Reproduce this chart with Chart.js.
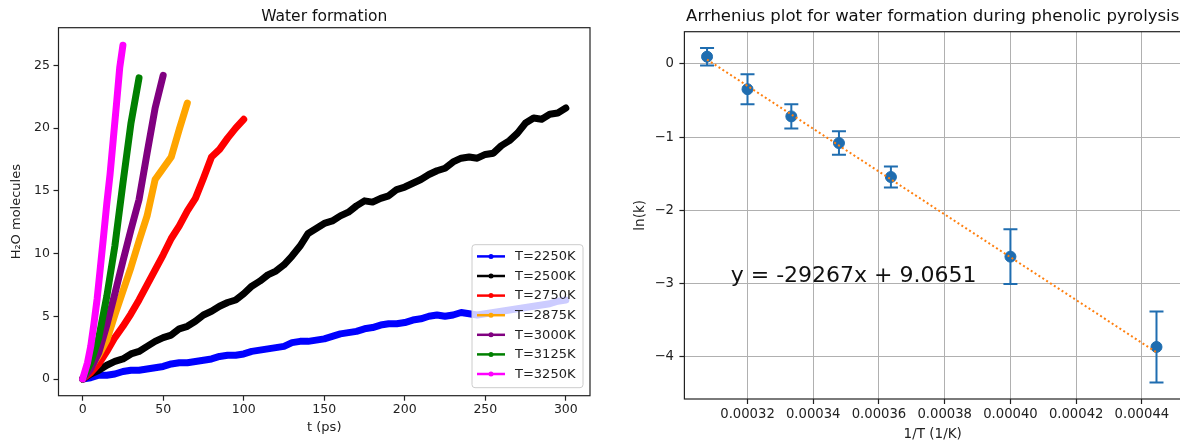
<!DOCTYPE html>
<html>
<head>
<meta charset="utf-8">
<title>Water formation</title>
<script src="https://cdn.jsdelivr.net/npm/chart.js@4.4.0/dist/chart.umd.min.js"></script>
<style>
    html, body { margin: 0; padding: 0; background: #fff; }
    body { width: 1180px; height: 442px; overflow: hidden; position: relative; }
    #waterChart { position: absolute; left: 0; top: 0; }
    #arrheniusChart { position: absolute; left: 600px; top: 0; }
</style>
</head>
<body>
<canvas id="waterChart" width="600" height="442"></canvas>
<canvas id="arrheniusChart" width="600" height="442"></canvas>
<script>
// Left panel: H2O molecules vs t (ps), one run per temperature
const runLabels = ['T=2250K', 'T=2500K', 'T=2750K', 'T=2875K', 'T=3000K', 'T=3125K', 'T=3250K'];
const runColors = ['#0000ff', '#000000', '#ff0000', '#ffa500', '#800080', '#008000', '#ff00ff'];

const t2250 = [0, 5, 10, 15, 20, 25, 30, 35, 40, 45, 50, 55, 60, 65, 70, 75, 80, 85, 90, 95, 100, 105, 110, 115, 120, 125, 130, 135, 140, 145, 150,
    155, 160, 165, 170, 175, 180, 185, 190, 195, 200, 205, 210, 215, 220, 225, 230, 235, 240, 245, 250, 255, 260, 265, 270, 275, 280, 285, 290, 295, 300];
const h2o2250 = [0, 0.1, 0.3, 0.3, 0.4, 0.6, 0.7, 0.7, 0.8, 0.9, 1.0, 1.2, 1.3, 1.3, 1.4, 1.5, 1.6, 1.8, 1.9, 1.9, 2.0, 2.2, 2.3, 2.4, 2.5, 2.6, 2.9, 3.0, 3.0, 3.1, 3.2,
    3.4, 3.6, 3.7, 3.8, 4.0, 4.1, 4.3, 4.4, 4.4, 4.5, 4.7, 4.8, 5.0, 5.1, 5.0, 5.1, 5.3, 5.2, 5.1, 5.2, 5.3, 5.4, 5.5, 5.6, 5.7, 5.8, 5.9, 6.0, 6.2, 6.3];
const t2500 = [0, 5, 10, 15, 20, 25, 30, 35, 40, 45, 50, 55, 60, 65, 70, 75, 80, 85, 90, 95, 100, 105, 110, 115, 120, 125, 130, 135, 140, 145, 150,
    155, 160, 165, 170, 175, 180, 185, 190, 195, 200, 205, 210, 215, 220, 225, 230, 235, 240, 245, 250, 255, 260, 265, 270, 275, 280, 285, 290, 295, 300];
const h2o2500 = [0, 0.4, 0.7, 1.1, 1.4, 1.6, 2.0, 2.2, 2.6, 3.0, 3.3, 3.5, 4.0, 4.2, 4.6, 5.1, 5.4, 5.8, 6.1, 6.3, 6.8, 7.4, 7.8, 8.3, 8.6, 9.1, 9.8, 10.6, 11.6, 12.0, 12.4,
    12.6, 13.0, 13.3, 13.8, 14.2, 14.1, 14.4, 14.6, 15.1, 15.3, 15.6, 15.9, 16.3, 16.6, 16.8, 17.3, 17.6, 17.7, 17.6, 17.9, 18.0, 18.6, 19.0, 19.6, 20.4, 20.8, 20.7, 21.1, 21.2, 21.6];
const t2750 = [0, 5, 10, 15, 20, 25, 30, 35, 40, 45, 50, 55, 60, 65, 70, 75, 80, 85, 90, 95, 100];
const h2o2750 = [0, 0.5, 1.2, 2.2, 3.3, 4.2, 5.2, 6.3, 7.5, 8.7, 9.9, 11.2, 12.2, 13.4, 14.4, 16.0, 17.7, 18.3, 19.2, 20.0, 20.7];
const t2875 = [0, 5, 10, 15, 20, 25, 30, 35, 40, 45, 50, 55, 60, 65];
const h2o2875 = [0, 0.9, 1.9, 3.1, 5.1, 7.0, 8.9, 11.0, 13.0, 15.9, 16.8, 17.7, 19.9, 22.0];
const t3000 = [0, 5, 10, 15, 20, 25, 30, 35, 40, 45, 50];
const h2o3000 = [0, 0.8, 2.1, 4.3, 6.8, 9.4, 11.9, 14.3, 18.0, 21.6, 24.2];
const t3125 = [0, 5, 10, 15, 20, 25, 30, 35];
const h2o3125 = [0, 1.3, 3.3, 6.6, 10.6, 15.6, 20.4, 24.0];
const t3250 = [0, 3, 5, 7, 9, 11, 13, 15, 17, 19, 21, 23, 25];
const h2o3250 = [0, 1.3, 2.6, 4.4, 6.4, 8.9, 11.4, 14.0, 16.3, 19.1, 21.9, 24.8, 26.6];

const runTimes = [t2250, t2500, t2750, t2875, t3000, t3125, t3250];
const runValues = [h2o2250, h2o2500, h2o2750, h2o2875, h2o3000, h2o3125, h2o3250];

// Right panel: Arrhenius plot
const invT = [0.000307692, 0.00032, 0.000333333, 0.000347826, 0.000363636, 0.0004, 0.000444444];
const lnK = [0.10, -0.345, -0.716, -1.08, -1.544, -2.632, -3.866];
const lnKErr = [0.12, 0.205, 0.165, 0.16, 0.145, 0.375, 0.485];
const fitX = [0.000307692, 0.000444444];
const fitY = [0.06, -3.94];
const fitText = 'y = -29267x + 9.0651';
const fitTextAt = { x: 0.0003149, y: -2.974 };

const FONT = 'DejaVu Sans';
const INK = '#222';
const POINT_BLUE = '#1f6db0';
Chart.defaults.font.family = FONT;
Chart.defaults.animation = false;

// matplotlib-like box around the axes
const frameBox = {
    id: 'frameBox',
    afterDraw(chart) {
        const a = chart.chartArea;
        const ctx = chart.ctx;
        ctx.save();
        ctx.strokeStyle = INK;
        ctx.lineWidth = 1.2;
        ctx.strokeRect(a.left, a.top, a.right - a.left, a.bottom - a.top);
        ctx.restore();
    }
};

// legend drawn inside the lower right corner of the axes
const insideLegend = {
    id: 'insideLegend',
    afterDatasetsDraw(chart) {
        const ctx = chart.ctx;
        const a = chart.chartArea;
        const w = 111, h = 143;
        const x = a.right - 7 - w;
        const y = a.bottom - 8 - h;
        ctx.save();
        ctx.beginPath();
        ctx.roundRect(x, y, w, h, 3);
        ctx.fillStyle = 'rgba(255,255,255,0.8)';
        ctx.fill();
        ctx.strokeStyle = '#cccccc';
        ctx.lineWidth = 1;
        ctx.stroke();
        ctx.font = '13px ' + FONT;
        ctx.textBaseline = 'middle';
        chart.data.datasets.forEach((ds, i) => {
            const cy = y + 11.7 + i * 19.6;
            ctx.strokeStyle = ds.borderColor;
            ctx.lineWidth = 2.5;
            ctx.beginPath();
            ctx.moveTo(x + 5, cy);
            ctx.lineTo(x + 33, cy);
            ctx.stroke();
            ctx.fillStyle = ds.borderColor;
            ctx.beginPath();
            ctx.arc(x + 19, cy, 2.5, 0, Math.PI * 2);
            ctx.fill();
            ctx.fillStyle = INK;
            ctx.fillText(ds.label, x + 43, cy + 0.5);
        });
        ctx.restore();
    }
};

// vertical error bars with caps, drawn through the chart's own scales
const errorBars = {
    id: 'errorBars',
    beforeDatasetsDraw(chart) {
        const ctx = chart.ctx;
        const xs = chart.scales.x, ys = chart.scales.y;
        ctx.save();
        ctx.strokeStyle = POINT_BLUE;
        ctx.lineWidth = 2;
        invT.forEach((v, i) => {
            const px = xs.getPixelForValue(v);
            const top = ys.getPixelForValue(lnK[i] + lnKErr[i]);
            const bot = ys.getPixelForValue(lnK[i] - lnKErr[i]);
            ctx.beginPath();
            ctx.moveTo(px, top); ctx.lineTo(px, bot);
            ctx.moveTo(px - 7, top); ctx.lineTo(px + 7, top);
            ctx.moveTo(px - 7, bot); ctx.lineTo(px + 7, bot);
            ctx.stroke();
        });
        ctx.restore();
    }
};

// fitted equation written in data coordinates
const fitLabel = {
    id: 'fitLabel',
    afterDatasetsDraw(chart) {
        const ctx = chart.ctx;
        ctx.save();
        ctx.font = '22px ' + FONT;
        ctx.fillStyle = '#111';
        ctx.textBaseline = 'alphabetic';
        ctx.fillText(fitText, chart.scales.x.getPixelForValue(fitTextAt.x), chart.scales.y.getPixelForValue(fitTextAt.y));
        ctx.restore();
    }
};

function tickFont(size) {
    return { family: FONT, size: size };
}

// ---- water formation chart ----
const waterSets = runLabels.map((label, i) => ({
    label: label,
    data: runTimes[i].map((t, j) => ({ x: t, y: runValues[i][j] })),
    borderColor: runColors[i],
    backgroundColor: runColors[i],
    borderWidth: 7,
    borderJoinStyle: 'round',
    borderCapStyle: 'round',
    pointRadius: 0,
    tension: 0,
    order: runLabels.length - i
}));

new Chart(document.getElementById('waterChart'), {
    type: 'line',
    data: { datasets: waterSets },
    options: {
        responsive: false,
        layout: { padding: { left: 0, right: 10, top: 0, bottom: 0 } },
        plugins: {
            legend: { display: false },
            tooltip: { enabled: false },
            title: {
                display: true, text: 'Water formation', fullSize: false, color: '#111',
                font: { family: FONT, size: 15.5, weight: 'normal' },
                padding: { top: 7.4, bottom: 1.7 }
            }
        },
        scales: {
            x: {
                type: 'linear', min: -15, max: 315,
                ticks: { stepSize: 50, includeBounds: false, padding: 1.5, color: INK, font: tickFont(12.5), maxRotation: 0 },
                grid: { drawOnChartArea: false, drawTicks: true, tickLength: 5, tickColor: INK, tickWidth: 1.2 },
                border: { display: false },
                title: { display: true, text: 't (ps)', color: INK, font: tickFont(13), padding: { top: 0, bottom: 6.2 } },
                afterFit: s => { s.height = 46.3; }
            },
            y: {
                type: 'linear', min: -1.33, max: 28.0,
                ticks: { stepSize: 5, includeBounds: false, padding: 3.5, color: INK, font: tickFont(12.5) },
                grid: { drawOnChartArea: false, drawTicks: true, tickLength: 5, tickColor: INK, tickWidth: 1.2 },
                border: { display: false },
                title: { display: true, text: 'H₂O molecules', color: INK, font: tickFont(13), padding: { top: 9.2, bottom: 0 } },
                afterFit: s => { s.width = 58.5; }
            }
        }
    },
    plugins: [insideLegend, frameBox]
});

// ---- Arrhenius chart ----
new Chart(document.getElementById('arrheniusChart'), {
    type: 'scatter',
    data: {
        datasets: [
            {
                label: 'ln(k)',
                data: invT.map((v, i) => ({ x: v, y: lnK[i] })),
                pointRadius: 5.5,
                pointBackgroundColor: POINT_BLUE,
                pointBorderColor: POINT_BLUE,
                pointBorderWidth: 1,
                showLine: false,
                order: 2
            },
            {
                label: 'fit',
                data: fitX.map((v, i) => ({ x: v, y: fitY[i] })),
                showLine: true,
                borderColor: '#ff7f0e',
                borderWidth: 2,
                borderDash: [2, 2.6],
                pointRadius: 0,
                order: 1
            }
        ]
    },
    options: {
        responsive: false,
        layout: { padding: { left: 0, right: 19, top: 0, bottom: 0 } },
        plugins: {
            legend: { display: false },
            tooltip: { enabled: false },
            title: {
                display: true, text: 'Arrhenius plot for water formation during phenolic pyrolysis', fullSize: false, color: '#111',
                font: { family: FONT, size: 16.5, weight: 'normal' },
                padding: { top: 6.8, bottom: 5.1 }
            }
        },
        scales: {
            x: {
                type: 'linear', min: 0.0003008, max: 0.0004519,
                ticks: {
                    stepSize: 0.00002, includeBounds: false, padding: 3.1, color: INK, font: tickFont(13.2), maxRotation: 0,
                    callback: v => v.toFixed(5)
                },
                grid: { color: '#b0b0b0', lineWidth: 1, drawTicks: true, tickLength: 5, tickColor: INK, tickWidth: 1.2 },
                border: { display: false },
                title: { display: true, text: '1/T (1/K)', color: INK, font: { family: FONT, size: 13.5, lineHeight: 1 }, padding: { top: 0, bottom: 0.3 } },
                afterFit: s => { s.height = 43; }
            },
            y: {
                type: 'linear', min: -4.577, max: 0.441,
                ticks: {
                    stepSize: 1, includeBounds: false, padding: 5.4, color: INK, font: tickFont(13.2),
                    callback: v => String(v).replace('-', '\u2212')
                },
                grid: { color: '#b0b0b0', lineWidth: 1, drawTicks: true, tickLength: 5, tickColor: INK, tickWidth: 1.2 },
                border: { display: false },
                title: { display: true, text: 'ln(k)', color: INK, font: tickFont(13.5), padding: { top: 32.6, bottom: 0 } },
                afterFit: s => { s.width = 84.4; }
            }
        }
    },
    plugins: [errorBars, fitLabel, frameBox]
});
</script>
</body>
</html>
